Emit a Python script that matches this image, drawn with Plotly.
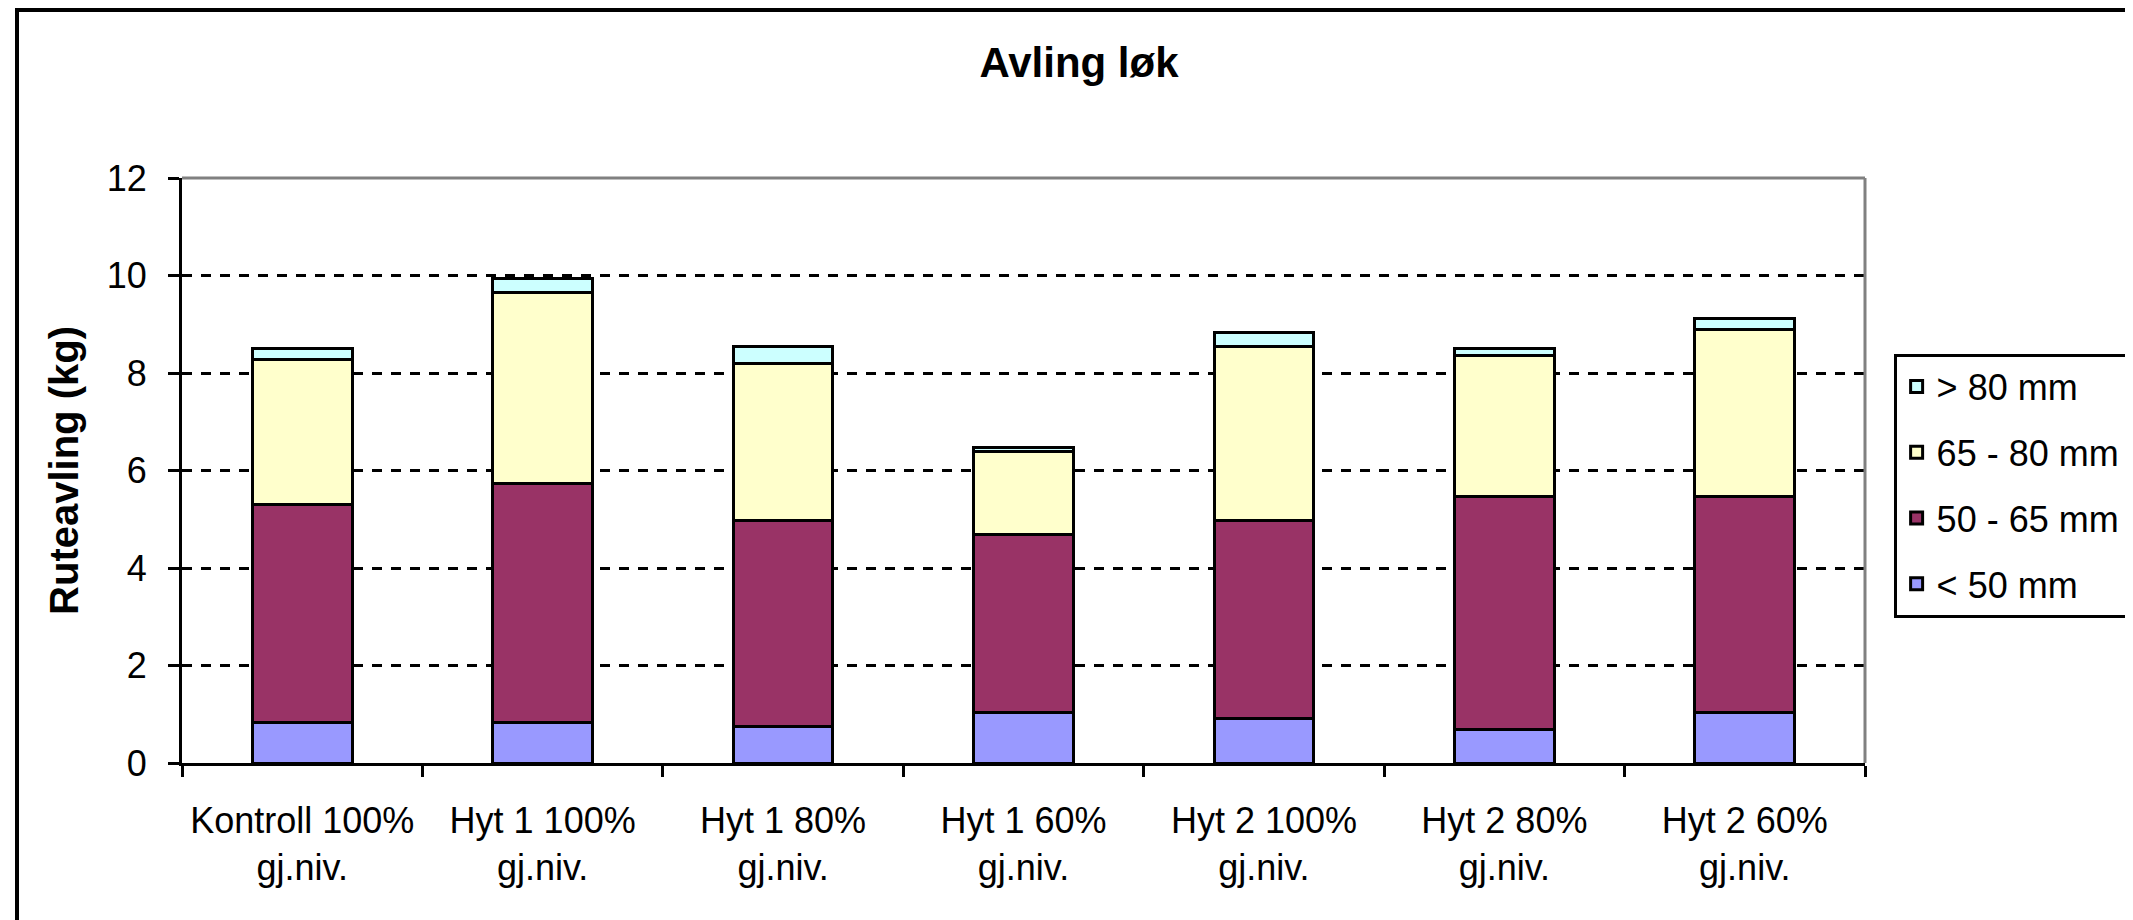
import plotly.graph_objects as go

# data (kg per plot)
categories = ["Kontroll 100%<br>gj.niv.", "Hyt 1 100%<br>gj.niv.", "Hyt 1 80%<br>gj.niv.",
              "Hyt 1 60%<br>gj.niv.", "Hyt 2 100%<br>gj.niv.", "Hyt 2 80%<br>gj.niv.",
              "Hyt 2 60%<br>gj.niv."]
under_50 = [0.83, 0.83, 0.75, 1.04, 0.91, 0.69, 1.04]
mm_50_65 = [4.48, 4.91, 4.23, 3.65, 4.07, 4.77, 4.42]
mm_65_80 = [2.96, 3.92, 3.22, 1.71, 3.57, 2.89, 3.43]
over_80 = [0.23, 0.28, 0.35, 0.07, 0.29, 0.15, 0.22]
y_ticks = [0, 2, 4, 6, 8, 10, 12]

series = [
    ("&lt; 50 mm", under_50, "#9999FF"),
    ("50 - 65 mm", mm_50_65, "#993366"),
    ("65 - 80 mm", mm_65_80, "#FFFFCC"),
    ("> 80 mm", over_80, "#CCFFFF"),
]

FONT = "Arial, Liberation Sans, sans-serif"

fig = go.Figure()
for i, (name, vals, col) in enumerate(series):
    fig.add_trace(go.Bar(
        x=categories, y=vals, name=name, legendgroup=str(i),
        legendrank=len(series) - i,
        marker=dict(color=col, line=dict(color="black", width=3)),
    ))

# page body has an 8px margin, so the figure is 8px smaller than the window
fig.update_layout(
    width=2125, height=912,
    barmode="stack", bargap=0.585,
    paper_bgcolor="white", plot_bgcolor="white",
    margin=dict(l=174, r=268, t=170, b=157, autoexpand=False),
    font=dict(family=FONT, size=36, color="black"),
    title=dict(text="<b>Avling løk</b>", x=0.504, xanchor="center",
               y=1 - 54 / 912, yanchor="middle", font=dict(size=42)),
    legend=dict(x=1.017, xanchor="left", y=0.70, yanchor="top",
                traceorder="grouped", tracegroupgap=16,
                bordercolor="black", borderwidth=3, bgcolor="white",
                font=dict(size=36)),
    showlegend=True,
)

fig.update_xaxes(
    showline=True, linecolor="black", linewidth=3,
    ticks="outside", ticklen=11, tickwidth=3, tickcolor="black",
    tickson="boundaries", ticklabelstandoff=24, showgrid=False,
)
fig.update_yaxes(
    range=[0, 12], tickvals=y_ticks,
    showline=True, linecolor="black", linewidth=3,
    ticks="outside", ticklen=11, tickwidth=3, tickcolor="black",
    ticklabelstandoff=14,
    showgrid=True, gridcolor="black", gridwidth=3, griddash="10px,9px",
    zeroline=False,
    title=dict(text="<b>Ruteavling (kg)</b>", standoff=16,
               font=dict(family=FONT, size=40)),
)

# plot-area border (grey top and right) and outer chart frame
fig.add_shape(type="line", xref="paper", yref="paper", x0=0, x1=1, y0=1, y1=1,
              line=dict(color="#808080", width=3))
fig.add_shape(type="line", xref="paper", yref="paper", x0=1, x1=1, y0=0, y1=1,
              line=dict(color="#808080", width=3))
fig.add_shape(type="rect", xref="paper", yref="paper",
              x0=(9 - 174) / 1683, x1=2, y0=-1, y1=(755 - 2) / 585,
              line=dict(color="black", width=4))

fig.write_html("out.html")
